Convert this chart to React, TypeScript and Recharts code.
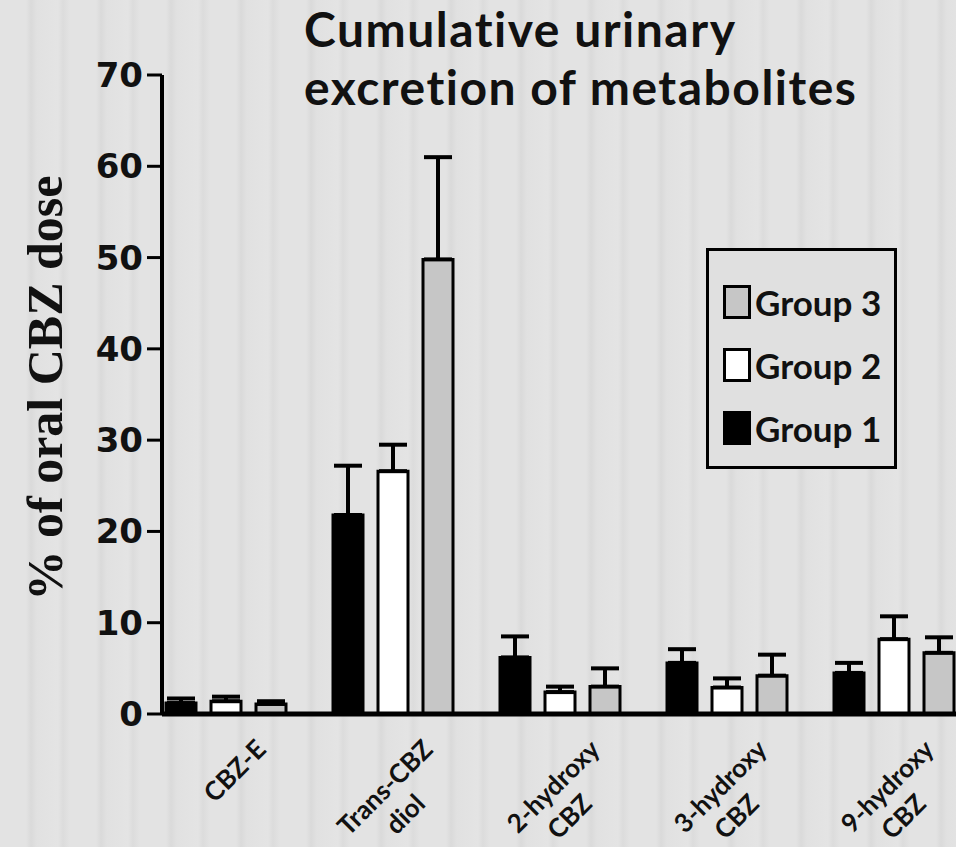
import React from 'react';
import { BarChart, Bar, XAxis, YAxis, ErrorBar, Legend, Label } from 'recharts';

const categories = ['CBZ-E', 'Trans-CBZ\ndiol', '2-hydroxy\nCBZ', '3-hydroxy\nCBZ', '9-hydroxy\nCBZ'];
const group1 = [1.2, 21.8, 6.2, 5.6, 4.5];
const group1Err = [0.5, 5.4, 2.3, 1.5, 1.1];
const group2 = [1.4, 26.6, 2.4, 2.9, 8.2];
const group2Err = [0.5, 2.9, 0.6, 1.0, 2.5];
const group3 = [1.1, 49.8, 3.0, 4.2, 6.7];
const group3Err = [0.3, 11.2, 2.0, 2.3, 1.7];
const yTicks = [0, 10, 20, 30, 40, 50, 60, 70];
const titleLines = ['Cumulative urinary', 'excretion of metabolites'];

const data = categories.map((name, i) => ({
  name,
  g1: group1[i],
  e1: [0, group1Err[i]],
  g2: group2[i],
  e2: [0, group2Err[i]],
  g3: group3[i],
  e3: [0, group3Err[i]],
}));

const BG = '#e0e0e0';
const GREY = '#c6c6c6';

// rotated two-line category labels, right end of first line near the group centre
const XTick = (props: any) => {
  const { x, payload } = props;
  const lines = String(payload.value).split('\n');
  const style = { fontFamily: 'Lato', fontWeight: 700, fontSize: 26, fill: '#111' };
  return (
    <g transform={`translate(${x + 42},${751}) rotate(-45)`}>
      <text x={0} y={0} textAnchor="end" style={style}>
        {lines[0]}
      </text>
      {lines[1] && (
        <text x={-44} y={33} textAnchor="end" style={style}>
          {lines[1]}
        </text>
      )}
    </g>
  );
};

const legendItems = [
  { label: 'Group 3', fill: GREY },
  { label: 'Group 2', fill: '#ffffff' },
  { label: 'Group 1', fill: '#000000' },
];

const LegendBox = () => (
  <div
    style={{
      width: 191,
      height: 221,
      border: '3px solid #000',
      background: BG,
      boxSizing: 'border-box',
      paddingTop: 19,
      paddingLeft: 14,
    }}
  >
    {legendItems.map((it) => (
      <div key={it.label} style={{ display: 'flex', alignItems: 'center', height: 63 }}>
        <div
          style={{
            width: 28,
            height: 34,
            background: it.fill,
            border: '3px solid #000',
            boxSizing: 'border-box',
          }}
        />
        <span
          style={{
            fontFamily: 'Lato',
            fontWeight: 700,
            fontSize: 35,
            color: '#111',
            marginLeft: 4,
          }}
        >
          {it.label}
        </span>
      </div>
    ))}
  </div>
);

export default function App() {
  return (
    <div
      style={{
        position: 'absolute',
        left: 0,
        top: 0,
        width: 956,
        height: 847,
        overflow: 'hidden',
        background:
          'repeating-linear-gradient(90deg, #e3e3e3 0px, #e3e3e3 26px, #dadada 31px, #e1e1e1 37px, #e4e4e4 58px, #dcdcdc 63px, #e3e3e3 70px)',
      }}
    >
      {titleLines.map((t, i) => (
        <div
          key={t}
          style={{
            position: 'absolute',
            left: 304,
            top: i * 58,
            fontFamily: 'Lato',
            fontWeight: 700,
            fontSize: 48,
            letterSpacing: 1.5,
            lineHeight: '58px',
            color: '#111',
            whiteSpace: 'nowrap',
            fontVariantLigatures: 'none',
          }}
        >
          {t}
        </div>
      ))}
      <BarChart
        width={990}
        height={847}
        data={data}
        margin={{ top: 75, right: 13, bottom: 0, left: 0 }}
        barSize={30}
        barGap={15}
        style={{ position: 'absolute', left: 0, top: 0 }}
      >
        <XAxis
          dataKey="name"
          height={133}
          padding={{ left: -20, right: 0 }}
          axisLine={{ stroke: '#000', strokeWidth: 5 }}
          tickLine={false}
          tick={<XTick />}
          interval={0}
        />
        <YAxis
          width={162}
          domain={[0, 70]}
          ticks={yTicks}
          allowDataOverflow
          axisLine={{ stroke: '#000', strokeWidth: 4 }}
          tickLine={{ stroke: '#000', strokeWidth: 3 }}
          tickSize={15}
          tickMargin={4}
          tick={{ fontFamily: 'DejaVu Sans', fontWeight: 700, fontSize: 34, fill: '#111' }}
        >
          <Label
            content={() => (
              <text
                x={62}
                y={388}
                transform="rotate(-90, 62, 388)"
                textAnchor="middle"
                style={{ fontFamily: 'Liberation Serif', fontWeight: 700, fontSize: 50, fill: '#111' }}
              >
                % of oral CBZ dose
              </text>
            )}
          />
        </YAxis>
        <Legend
          layout="vertical"
          align="center"
          verticalAlign="middle"
          wrapperStyle={{ left: 706, top: 248, width: 191, height: 221 }}
          content={() => <LegendBox />}
        />
        <Bar dataKey="g1" fill="#000" stroke="#000" strokeWidth={3} isAnimationActive={false}>
          <ErrorBar dataKey="e1" width={14} stroke="#000" strokeWidth={4} />
        </Bar>
        <Bar dataKey="g2" fill="#fff" stroke="#000" strokeWidth={3} isAnimationActive={false}>
          <ErrorBar dataKey="e2" width={14} stroke="#000" strokeWidth={4} />
        </Bar>
        <Bar dataKey="g3" fill={GREY} stroke="#000" strokeWidth={3} isAnimationActive={false}>
          <ErrorBar dataKey="e3" width={14} stroke="#000" strokeWidth={4} />
        </Bar>
      </BarChart>
    </div>
  );
}
